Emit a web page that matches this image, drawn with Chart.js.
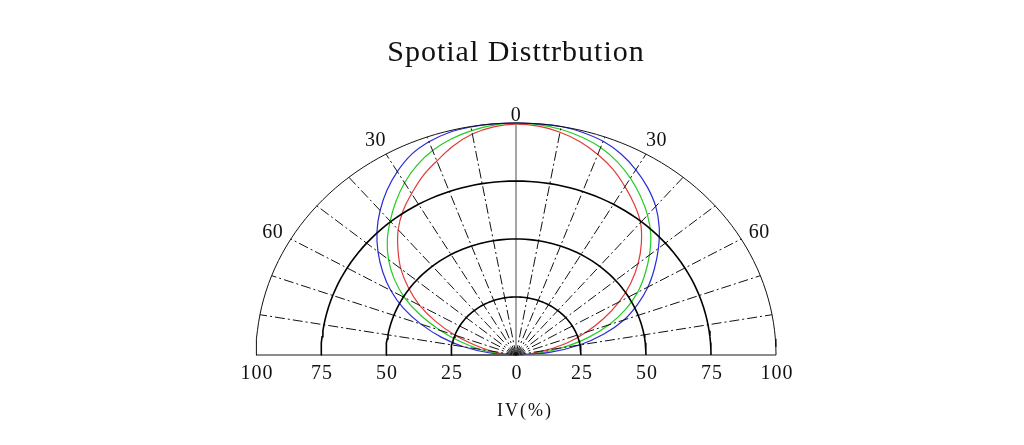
<!DOCTYPE html>
<html>
<head>
<meta charset="utf-8">
<script src="https://cdn.jsdelivr.net/npm/chart.js@4"></script>
<style>
  html, body { margin: 0; padding: 0; background: #fff; }
  canvas { display: block; }
</style>
</head>
<body>
<canvas id="polarChart" width="1024" height="445"></canvas>
<script>
// angle from the axis, negative = left half
const angles = [-90, -85, -80, -75, -70, -65, -60, -55, -50, -45, -40, -35, -30, -25, -20, -15, -10, -5, 0,
                5, 10, 15, 20, 25, 30, 35, 40, 45, 50, 55, 60, 65, 70, 75, 80, 85, 90];
const blueIV  = [0, 10, 20.5, 29.8, 38.9, 47.8, 55.6, 62.6, 69.3, 75.6, 81.3, 86.6, 91.3, 95.3, 97.8, 99.3, 99.8, 100, 100,
                 100, 100, 99.3, 98, 95.6, 92.2, 88.2, 83.6, 77.9, 71.5, 65, 58.6, 51.6, 44.2, 35, 24.8, 13, 0];
const greenIV = [0, 7, 14.2, 22, 31, 40.5, 49.5, 57.2, 64, 70, 75.3, 80.6, 85.7, 90.2, 93.8, 96.4, 98.2, 99.5, 100,
                 99.7, 98.8, 97.3, 95.2, 92, 88, 83.5, 78.7, 73.3, 67, 60.5, 54, 46.5, 38.1, 28.5, 18, 8.5, 0];
const redIV   = [0, 4.5, 9.6, 16.2, 24.9, 34, 42.8, 50.5, 57.8, 64.2, 70.5, 75.8, 80.3, 85, 89, 93.3, 96.7, 98.7, 99.5,
                 99, 97.5, 95.2, 92, 88.3, 83.8, 79.3, 74.5, 68.2, 61.3, 53.8, 45.8, 37.2, 28.7, 20.5, 11.5, 5, 0];

const ringValues = [25, 50, 75];
const outerRing = 100;
const centerRings = [1.5, 3];
const spokeAngles = [-80, -70, -60, -50, -40, -30, -20, -10, 10, 20, 30, 40, 50, 60, 70, 80];
const angleLabels = [0, 30, 60];
const tickValues = [-100, -75, -50, -25, 0, 25, 50, 75, 100];

function polar(deg, r) {
    const a = deg * Math.PI / 180;
    return { x: r * Math.sin(a), y: r * Math.cos(a) };
}

function ringPoints(r) {
    const pts = [];
    for (let d = -90; d <= 90; d += 2) pts.push(polar(d, r));
    return pts;
}

const datasets = [];

ringValues.forEach(r => datasets.push({
    data: ringPoints(r), borderColor: '#000', borderWidth: 1.6
}));
datasets.push({ data: ringPoints(outerRing), borderColor: '#111', borderWidth: 1 });
centerRings.forEach(r => datasets.push({
    data: ringPoints(r), borderColor: '#555', borderWidth: 1
}));

spokeAngles.forEach(d => datasets.push({
    data: [polar(d, 0), polar(d, 100)],
    borderColor: '#111', borderWidth: 1, borderDash: [10, 3, 2, 3]
}));

// axis lines
datasets.push({ data: [{ x: 0, y: 0 }, { x: 0, y: 100 }], borderColor: '#888', borderWidth: 1.5 });
datasets.push({ data: [{ x: -100, y: 0 }, { x: 100, y: 0 }], borderColor: '#666', borderWidth: 1.5 });
datasets.push({ data: [{ x: -50, y: 0 }, { x: 0, y: 0 }], borderColor: '#111', borderWidth: 1.5 });

[[blueIV, '#2b2bd9'], [greenIV, '#22cc22'], [redIV, '#e23a3a']].forEach(([vals, color]) => {
    datasets.push({
        data: angles.map((d, i) => polar(d, vals[i])),
        borderColor: color, borderWidth: 1.2, tension: 0.4
    });
});

datasets.forEach(ds => {
    ds.showLine = true;
    ds.pointRadius = 0;
    ds.fill = false;
    ds.clip = false;
});

const labelsPlugin = {
    id: 'polarLabels',
    afterDraw(chart) {
        const { ctx, scales: { x, y } } = chart;
        ctx.save();
        ctx.fillStyle = '#111';
        ctx.textAlign = 'center';
        ctx.textBaseline = 'middle';

        ctx.font = '30px "Liberation Serif", serif';
        ctx.letterSpacing = '1px';
        ctx.fillText('Spotial Disttrbution', 516, 53);

        ctx.font = '20px "Liberation Serif", serif';
        ctx.letterSpacing = '0.5px';
        angleLabels.forEach(a => {
            const sides = a === 0 ? [0] : [-a, a];
            sides.forEach(d => {
                const p = polar(d, a === 0 ? 104.5 : 108);
                ctx.fillText(String(a), x.getPixelForValue(p.x), y.getPixelForValue(p.y) + 3);
            });
        });

        ctx.letterSpacing = '1px';
        tickValues.forEach(v => {
            ctx.fillText(String(Math.abs(v)), x.getPixelForValue(v) + 1, y.getPixelForValue(0) + 19);
        });

        ctx.font = '18px "Liberation Serif", serif';
        ctx.letterSpacing = '2px';
        ctx.fillText('IV(%)', 525, 411);
        ctx.restore();
    }
};

new Chart(document.getElementById('polarChart'), {
    type: 'scatter',
    data: { datasets: datasets },
    options: {
        responsive: false,
        animation: false,
        layout: { padding: { left: 256, right: 248, top: 123, bottom: 90 } },
        scales: {
            x: { type: 'linear', min: -100, max: 100, display: false },
            y: { type: 'linear', min: 0, max: 100, display: false }
        },
        plugins: {
            legend: { display: false },
            tooltip: { enabled: false }
        }
    },
    plugins: [labelsPlugin]
});
</script>
</body>
</html>
